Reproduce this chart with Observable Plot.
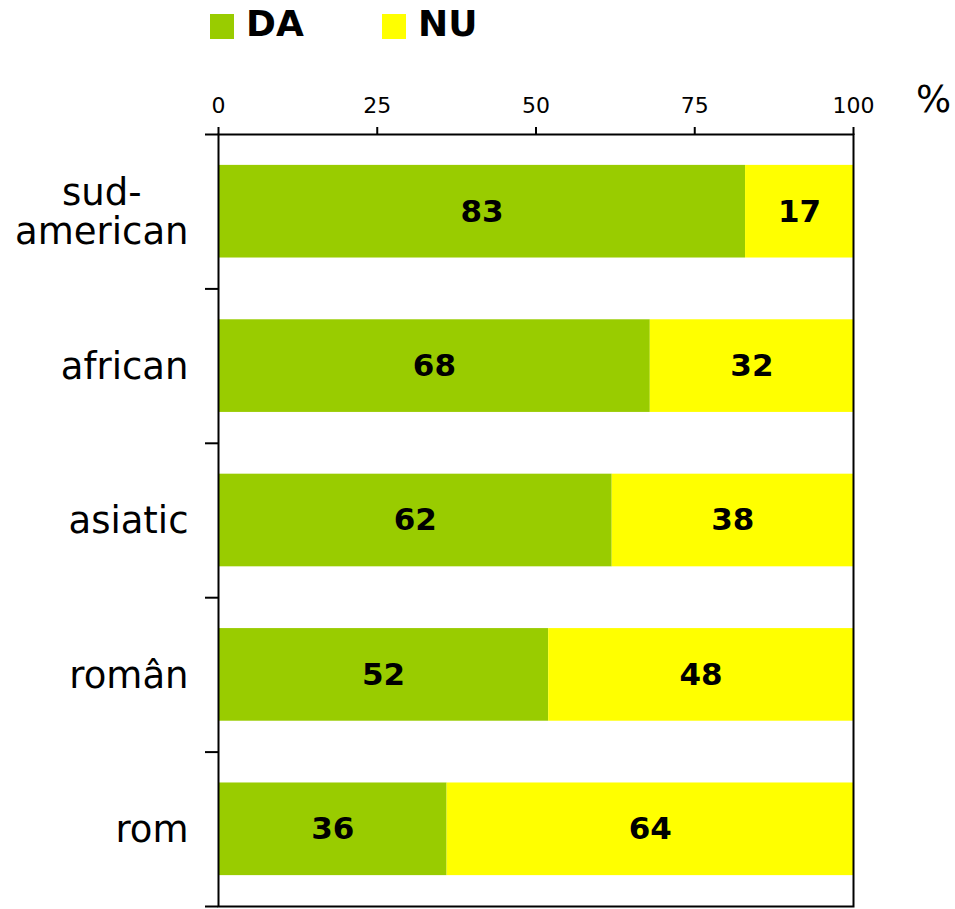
<!DOCTYPE html>
<html>
<head>
<meta charset="utf-8">
<script src="https://cdn.jsdelivr.net/npm/d3@7"></script>
<script src="https://cdn.jsdelivr.net/npm/@observablehq/plot@0.6"></script>
<style>
  html, body { margin: 0; padding: 0; background: #fff; }
  body { width: 955px; height: 909px; overflow: hidden; font-family: "DejaVu Sans", Verdana, sans-serif; }
  #legend { position: relative; height: 52px; }
  #legend .sw { position: absolute; top: 14px; width: 24px; height: 25px; }
  #legend .lb { position: absolute; top: 6px; font-size: 36px; line-height: 36px; font-weight: bold; color: #000; }
  #chart svg { display: block; }
</style>
</head>
<body>
<div id="legend"></div>
<div id="chart"></div>
<script>
const categories = ["sud-american", "african", "asiatic", "român", "rom"];
const categoryLabels = ["sud-\namerican", "african", "asiatic", "român", "rom"];
const da = [83, 68, 62, 52, 36];
const nu = [17, 32, 38, 48, 64];
const seriesNames = ["DA", "NU"];
const seriesColors = ["#99cc00", "#ffff00"];
const xTicks = [0, 25, 50, 75, 100];

// legend
const legend = document.getElementById("legend");
const legendPos = [[210, 246], [382, 418]];
seriesNames.forEach((s, i) => {
  const sw = document.createElement("div");
  sw.className = "sw";
  sw.style.left = legendPos[i][0] + "px";
  sw.style.background = seriesColors[i];
  legend.appendChild(sw);
  const lb = document.createElement("div");
  lb.className = "lb";
  lb.style.left = legendPos[i][1] + "px";
  lb.textContent = s;
  legend.appendChild(lb);
});

// build rows
const rows = [];
categories.forEach((c, i) => {
  let acc = 0;
  [da[i], nu[i]].forEach((v, j) => {
    rows.push({cat: c, idx: i, series: seriesNames[j], value: v, x1: acc, x2: acc + v});
    acc += v;
  });
});

const chart = Plot.plot({
  width: 955,
  height: 857,
  marginTop: 82,
  marginBottom: 3,
  marginLeft: 218,
  marginRight: 102,
  style: {fontFamily: "DejaVu Sans, Verdana, sans-serif", color: "#000", background: "#fff"},
  x: {domain: [0, 100]},
  y: {domain: [0, 5], reverse: true},
  color: {domain: seriesNames, range: seriesColors},
  marks: [
    Plot.rect(rows, {x1: "x1", x2: "x2", y1: d => d.idx + 0.2, y2: d => d.idx + 0.8, fill: "series"}),
    Plot.text(rows, {x: d => (d.x1 + d.x2) / 2, y: d => d.idx + 0.5, text: d => String(d.value),
      fontSize: 31, fontWeight: "bold", fill: "#000"}),
    Plot.frame({stroke: "#000", strokeWidth: 2}),
    Plot.axisX({anchor: "top", ticks: xTicks, tickSize: 8, tickPadding: 14, fontSize: 22,
      strokeWidth: 2, label: null, tickFormat: d => String(d)}),
    Plot.axisY({anchor: "left", ticks: [0, 1, 2, 3, 4, 5], tickSize: 13, strokeWidth: 2,
      tickFormat: () => "", label: null}),
    Plot.axisY({anchor: "left", ticks: [0.5, 1.5, 2.5, 3.5, 4.5], tickSize: 0, tickPadding: 30,
      fontSize: 37, lineHeight: 1.08, label: null,
      tickFormat: d => categoryLabels[Math.floor(d)]}),
    Plot.text(["%"], {frameAnchor: "top-right", dx: 80, dy: -34, textAnchor: "middle",
      lineAnchor: "middle", fontSize: 37, fill: "#000"})
  ]
});
document.getElementById("chart").appendChild(chart);

// center multi-line category label lines over each other (right edge kept)
chart.querySelectorAll("text").forEach(t => {
  const spans = t.querySelectorAll("tspan");
  if (spans.length > 1) {
    const widths = Array.from(spans, s => s.getComputedTextLength());
    const maxW = Math.max(...widths);
    t.setAttribute("text-anchor", "middle");
    spans.forEach(s => s.setAttribute("x", -maxW / 2));
  }
});
</script>
</body>
</html>
